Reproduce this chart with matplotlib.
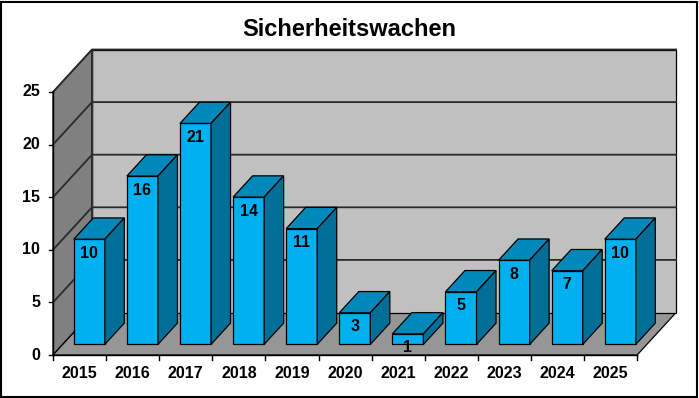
import numpy as np
from matplotlib import pyplot as plt
from matplotlib.patches import Polygon, Rectangle

years = ['2015', '2016', '2017', '2018', '2019', '2020',
         '2021', '2022', '2023', '2024', '2025']
counts = [10, 16, 21, 14, 11, 3, 1, 5, 8, 7, 10]
yticks = [0, 5, 10, 15, 20, 25]

title = 'Sicherheitswachen'

# colours
c_front = '#00B0F0'
c_top = '#0088BA'
c_side = '#006E96'
c_back = '#C0C0C0'
c_wall = '#808080'
c_floor = '#969696'

plt.rcParams['font.family'] = ['Liberation Sans', 'DejaVu Sans']

W, H = 699, 398
fig = plt.figure(figsize=(W / 100, H / 100), dpi=100)
ax = fig.add_axes([0, 0, 1, 1])

# pixel scale of the front plane
px_x = 53.1      # pixels per category
px_y = 10.52     # pixels per value unit
x0_px, y0_px = 53, 43   # origin (from left, from bottom)
ax.set_xlim(-x0_px / px_x, (W - x0_px) / px_x)
ax.set_ylim(-y0_px / px_y, (H - y0_px) / px_y)
ax.axis('off')

n = len(years)
ymax = 25
# depth of the 3d box in data units
ddx = 39 / px_x
ddy = 42.5 / px_y

def poly(pts, fc, lw=0.9, ec='black', z=1):
    ax.add_patch(Polygon(pts, closed=True, fc=fc, ec=ec, lw=lw, zorder=z))

# side wall, floor, back wall
poly([(0, 0), (ddx, ddy), (ddx, ymax + ddy), (0, ymax)], c_wall)
poly([(0, 0), (n, 0), (n + ddx, ddy), (ddx, ddy)], c_floor)
poly([(ddx, ddy), (n + ddx, ddy), (n + ddx, ymax + ddy), (ddx, ymax + ddy)], c_back)

# gridlines
for v in yticks[1:]:
    ax.plot([0, ddx, n + ddx], [v, v + ddy, v + ddy], color='#2a2a2a', lw=1.3, zorder=2)
ax.plot([ddx, ddx], [ddy, ymax + ddy], color='#333333', lw=1, zorder=2)

# axis lines and ticks
fs = 11.5
ax.plot([0, 0], [0, ymax], color='black', lw=1, zorder=3)
ax.plot([0, n], [0, 0], color='black', lw=1, zorder=3)
for v in yticks:
    ax.plot([-4 / px_x, 0], [v, v], color='black', lw=1, zorder=3)
    ax.text(-13 / px_x, v, str(v), ha='right', va='center',
            fontsize=fs, fontweight='bold')
for i in range(n + 1):
    ax.plot([i, i], [0, -5 / px_y], color='black', lw=1, zorder=3)
for i, yr in enumerate(years):
    ax.text(i + 0.5, -19 / px_y, yr, ha='center', va='center',
            fontsize=fs, fontweight='bold')

# bars
bw = 0.585
f0, f1 = 0.25, 0.75
for i, v in enumerate(counts):
    xl = i + 0.5 - bw / 2 + f0 * ddx
    xr = xl + bw
    yb = f0 * ddy
    yt = v + f0 * ddy
    ox = (f1 - f0) * ddx
    oy = (f1 - f0) * ddy
    poly([(xl, yb), (xr, yb), (xr, yt), (xl, yt)], c_front, z=4)
    poly([(xl, yt), (xr, yt), (xr + ox, yt + oy), (xl + ox, yt + oy)], c_top, z=4)
    poly([(xr, yb), (xr + ox, yb + oy), (xr + ox, yt + oy), (xr, yt)], c_side, z=4)
    ax.text((xl + xr) / 2, yt - 14 / px_y, str(v), ha='center', va='center',
            fontsize=fs, fontweight='bold', zorder=6)

ax.text(0.5, 1 - 29 / H, title, transform=ax.transAxes, ha='center',
        va='center', fontsize=17, fontweight='bold')

# outer border
fig.patches.append(Rectangle((1 / W, 1 / H), 1 - 3 / W, 1 - 3 / H,
                             transform=fig.transFigure, fill=False,
                             ec='black', lw=1.5))

plt.savefig('out.png', dpi=100)
